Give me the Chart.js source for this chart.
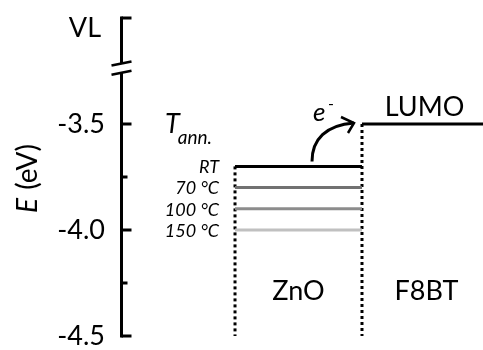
<!DOCTYPE html>
<html>
<head>
<meta charset="utf-8">
<script src="https://cdn.jsdelivr.net/npm/chart.js@4"></script>
<style>
html,body{margin:0;padding:0;background:#fff;}
#wrap{width:483px;height:350px;}
</style>
</head>
<body>
<div id="wrap"><canvas id="c" width="483" height="350"></canvas></div>
<script>
// ---- data ----
const annealTemps = ['RT', '70 °C', '100 °C', '150 °C'];
const znoConductionBand = [-3.7, -3.8, -3.9, -4.0];
const f8btLUMO = -3.5;
const materials = ['ZnO', 'F8BT'];
const yTickValues = [-4.5, -4.25, -4.0, -3.75, -3.5, -3.0];
const yTickLabels = ['-4.5', '', '-4.0', '', '-3.5', 'VL'];
const vacuumLevelLabel = 'VL';

// ---- styles ----
const levelColors = ['#000000', '#717171', '#8c8c8c', '#c0c0c0'];
const FONT = 'Lato, "Open Sans", sans-serif';
const X_MIN = -0.89, X_MAX = 1.953;
const Y_MIN = -4.5, Y_MAX = -3.0;

const datasets = [];
annealTemps.forEach((t, i) => {
  datasets.push({
    label: t,
    data: [{x: 0, y: znoConductionBand[i]}, {x: 1, y: znoConductionBand[i]}],
    borderColor: levelColors[i], borderWidth: 3, pointRadius: 0, clip: false
  });
});
datasets.push({
  label: 'LUMO',
  data: [{x: 1, y: f8btLUMO}, {x: X_MAX, y: f8btLUMO}],
  borderColor: '#000', borderWidth: 3, pointRadius: 0, clip: false
});
// dotted interface lines
datasets.push({
  label: 'ZnO edge',
  data: [{x: 0, y: znoConductionBand[0]}, {x: 0, y: Y_MIN}],
  borderColor: '#000', borderWidth: 3, borderDash: [3, 3], pointRadius: 0, clip: false
});
datasets.push({
  label: 'interface',
  data: [{x: 1, y: f8btLUMO}, {x: 1, y: Y_MIN}],
  borderColor: '#000', borderWidth: 3, borderDash: [3, 3], pointRadius: 0, clip: false
});

const annotate = {
  id: 'annotate',
  afterDatasetsDraw(chart) {
    const ctx = chart.ctx;
    const xs = chart.scales.x, ys = chart.scales.y;
    const ax = chart.chartArea.left - 0.5;
    ctx.save();
    ctx.strokeStyle = '#000';
    ctx.fillStyle = '#000';
    ctx.lineWidth = 3;
    ctx.lineCap = 'butt';
    // axis line with break
    const yTop = ys.getPixelForValue(Y_MAX);
    const yBot = ys.getPixelForValue(Y_MIN);
    const b1 = ys.getPixelForValue(-3.215);
    const b2 = ys.getPixelForValue(-3.258);
    ctx.beginPath();
    ctx.moveTo(ax, yTop - 1.5); ctx.lineTo(ax, b1);
    ctx.moveTo(ax, b2); ctx.lineTo(ax, yBot + 1.5);
    ctx.stroke();
    // break marks
    ctx.lineWidth = 2.5;
    ctx.beginPath();
    ctx.moveTo(ax - 10, b1 + 2); ctx.lineTo(ax + 10, b1 - 2);
    ctx.moveTo(ax - 10, b2 + 2); ctx.lineTo(ax + 10, b2 - 2);
    ctx.stroke();
    // ticks (inside)
    ctx.lineWidth = 3;
    ys.ticks.forEach((t, i) => {
      const y = ys.getPixelForValue(t.value);
      const len = yTickLabels[i] === '' ? 6 : 10;
      ctx.beginPath();
      ctx.moveTo(ax, y); ctx.lineTo(ax + len, y);
      ctx.stroke();
    });
    // VL label
    ctx.font = '27px ' + FONT;
    ctx.textAlign = 'right';
    ctx.textBaseline = 'middle';
    ctx.fillText(vacuumLevelLabel, 101, yTop + 10);

    // axis title E (eV)
    ctx.save();
    ctx.translate(28, 179);
    ctx.rotate(-Math.PI / 2);
    ctx.textBaseline = 'middle';
    ctx.textAlign = 'left';
    const f1 = 'italic 28px ' + FONT, f2 = '28px ' + FONT;
    ctx.font = f1; const w1 = ctx.measureText('E').width;
    ctx.font = f2; const w2 = ctx.measureText(' (eV)').width;
    const start = -(w1 + w2) / 2;
    ctx.font = f1; ctx.fillText('E', start, 0);
    ctx.font = f2; ctx.fillText(' (eV)', start + w1 + 1, 0);
    ctx.restore();

    // level labels
    const x0 = xs.getPixelForValue(0), x1 = xs.getPixelForValue(1);
    ctx.font = 'italic 18px ' + FONT;
    ctx.textAlign = 'right';
    ctx.textBaseline = 'middle';
    annealTemps.forEach((t, i) => {
      ctx.fillText(t, x0 - 16, ys.getPixelForValue(znoConductionBand[i]) + 1);
    });
    // T_ann.
    ctx.textAlign = 'left';
    ctx.textBaseline = 'alphabetic';
    const yRT = ys.getPixelForValue(znoConductionBand[0]);
    ctx.font = 'italic 27px ' + FONT;
    ctx.fillText('T', x0 - 70, yRT - 33);
    const wT = ctx.measureText('T').width;
    ctx.font = 'italic 19px ' + FONT;
    ctx.fillText('ann.', x0 - 70 + wT - 2, yRT - 22);

    // e- and arrow
    ctx.font = 'italic 26px ' + FONT;
    ctx.fillText('e', x0 + 78, yRT - 45);
    ctx.font = '16px ' + FONT;
    ctx.fillText('-', x0 + 93, yRT - 57);
    const yL = ys.getPixelForValue(f8btLUMO);
    const sx = x0 + 77, sy = yRT - 5;
    const ex = x1 - 8, ey = yL - 1;
    ctx.lineWidth = 3;
    ctx.beginPath();
    ctx.moveTo(sx, sy);
    ctx.bezierCurveTo(sx, sy - 22, sx + 14, ey + 2, ex, ey);
    ctx.stroke();
    ctx.lineWidth = 2.5;
    ctx.beginPath();
    ctx.moveTo(ex - 13, ey - 6);
    ctx.lineTo(ex, ey);
    ctx.lineTo(ex - 6, ey + 10);
    ctx.stroke();

    // LUMO
    ctx.font = '27px ' + FONT;
    ctx.textAlign = 'center';
    ctx.fillText('LUMO', (x1 + chart.chartArea.right) / 2 + 2, yL - 8);
    // material labels
    const yMat = ys.getPixelForValue(-4.33);
    ctx.fillText(materials[0], (x0 + x1) / 2, yMat);
    ctx.fillText(materials[1], (x1 + chart.chartArea.right) / 2 + 4, yMat);
    ctx.restore();
  }
};

new Chart(document.getElementById('c'), {
  type: 'line',
  data: {datasets},
  options: {
    responsive: false,
    animation: false,
    events: [],
    layout: {padding: {top: 18, bottom: 14, left: 0, right: 0}, autoPadding: false},
    plugins: {legend: {display: false}, tooltip: {enabled: false}, title: {display: false}},
    scales: {
      x: {type: 'linear', min: X_MIN, max: X_MAX, display: false},
      y: {
        type: 'linear', min: Y_MIN, max: Y_MAX, position: 'left',
        afterBuildTicks: (s) => { s.ticks = yTickValues.map(v => ({value: v})); },
        afterFit: (s) => { s.width = 122; s.paddingTop = 0; s.paddingBottom = 0; },
        grid: {display: false, drawTicks: false},
        border: {display: false},
        ticks: {
          padding: 17, color: '#000', font: {family: FONT, size: 27},
          autoSkip: false,
          callback: (v, i) => (yTickLabels[i] === 'VL' ? '' : yTickLabels[i])
        }
      }
    }
  },
  plugins: [annotate]
});
</script>
</body>
</html>
